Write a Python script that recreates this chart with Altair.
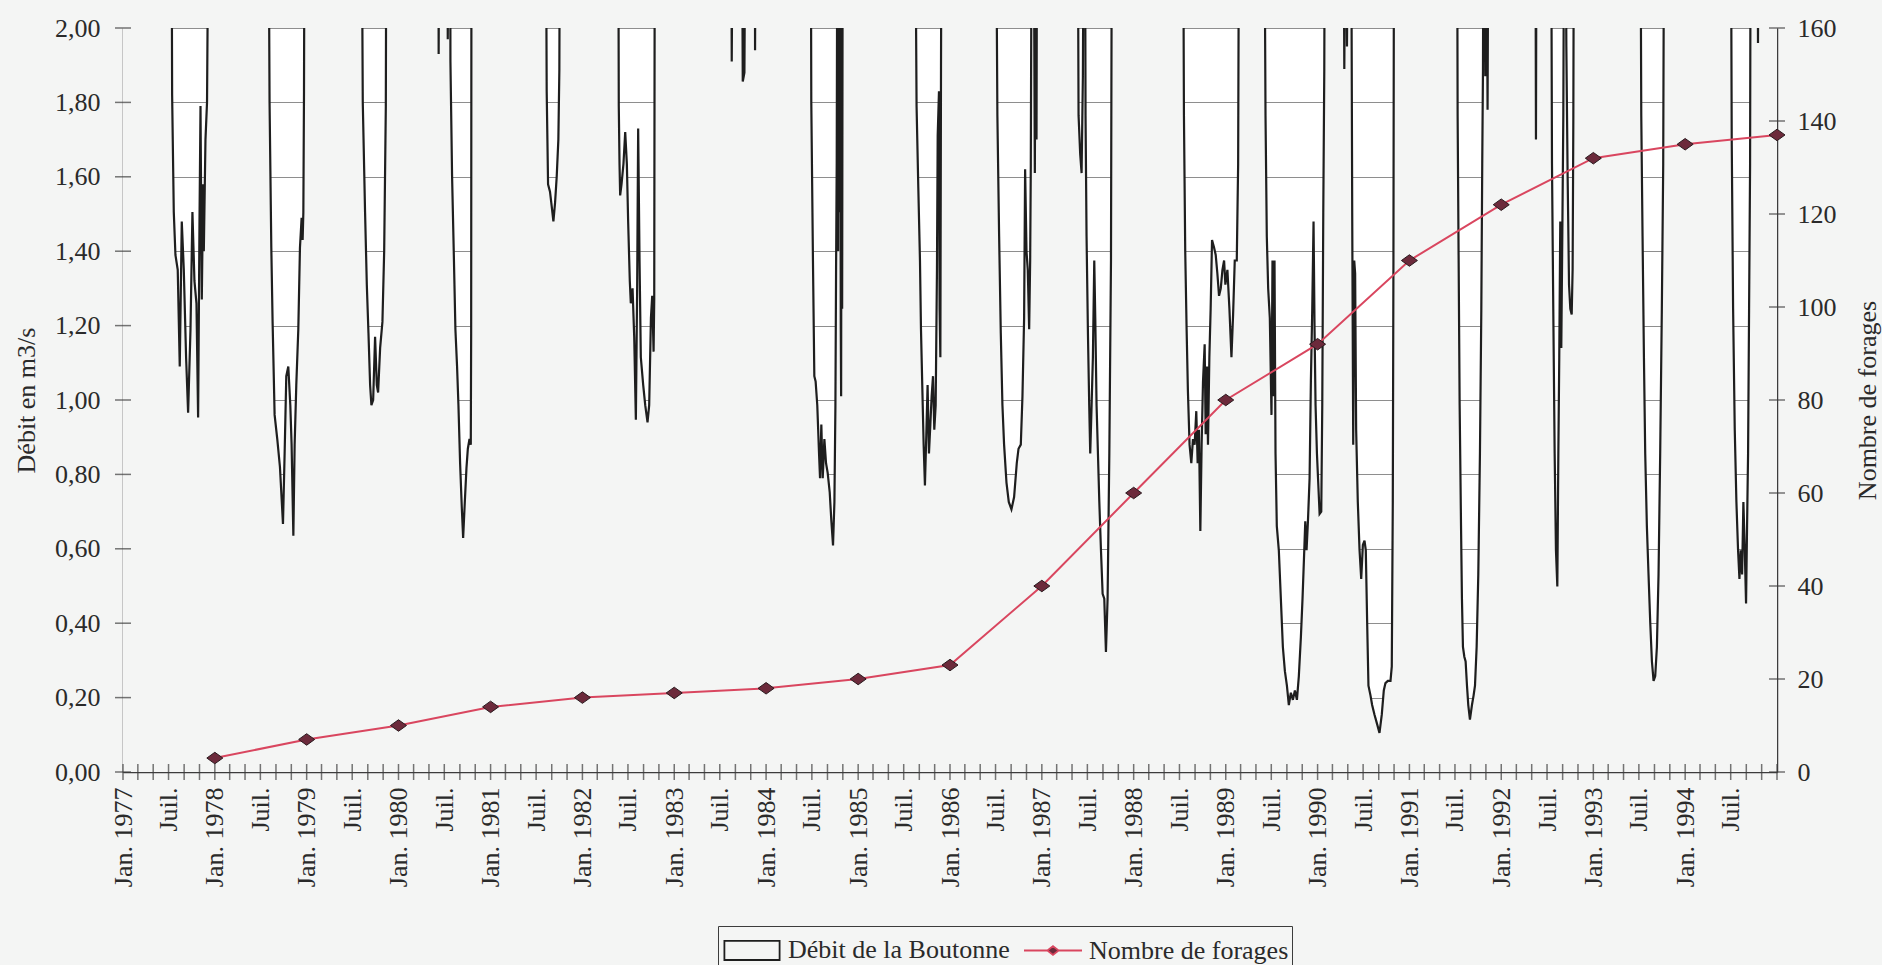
import math
from datetime import datetime, timezone
import altair as alt
import pandas as pd

# ---------------------------------------------------------------- style
FONT = "Liberation Serif"
BG = "#f4f5f4"
TXT = "#2a2a2a"
AXIS = "#3c3c3c"
GRID = "#8e8e8e"
CURVE = "#1e1e1e"
RED = "#d9465f"
MAROON = "#6c2a3b"
DIAMOND_EDGE = "#2a1a1e"
WIDTH, HEIGHT = 1654, 744

# ---------------------------------------------------------------- data
# Débit de la Boutonne (m3/s) as (decimal year, value).
# None = flow above the top of the scale (> 2,00 m3/s)
dip_1977 = [(1977.527, None), (1977.535, 1.82), (1977.553, 1.505), (1977.571, 1.39), (1977.596, 1.35),
            (1977.618, 1.09), (1977.640, 1.48), (1977.662, 1.35), (1977.687, 1.115), (1977.709, 0.966),
            (1977.735, 1.19), (1977.756, 1.505), (1977.778, 1.32), (1977.800, 1.26), (1977.818, 0.953),
            (1977.833, 1.48), (1977.844, 1.79), (1977.858, 1.27), (1977.873, 1.58), (1977.880, 1.40),
            (1977.898, 1.70), (1977.915, 1.80), (1977.935, None)]
dip_1978 = [(1978.582, None), (1978.596, 1.80), (1978.615, 1.41), (1978.629, 1.21), (1978.651, 0.96),
            (1978.680, 0.895), (1978.709, 0.82), (1978.742, 0.667), (1978.760, 0.856), (1978.778, 1.064),
            (1978.800, 1.09), (1978.822, 0.986), (1978.836, 0.88), (1978.855, 0.635), (1978.869, 0.88),
            (1978.887, 1.04), (1978.909, 1.19), (1978.927, 1.41), (1978.945, 1.49), (1978.956, 1.43),
            (1978.964, 1.505), (1978.971, 1.83), (1978.978, None)]
dip_1979 = [(1979.596, None), (1979.611, 1.80), (1979.636, 1.505), (1979.655, 1.31), (1979.673, 1.18),
            (1979.691, 1.04), (1979.705, 0.986), (1979.724, 1.00), (1979.745, 1.17), (1979.764, 1.04),
            (1979.778, 1.02), (1979.800, 1.14), (1979.825, 1.21), (1979.844, 1.40), (1979.862, 1.79),
            (1979.869, None)]
dip_1980 = [(1980.433, None), (1980.436, 1.93), (1980.444, None), (1980.527, None), (1980.535, 1.97),
            (1980.549, None), (1980.560, None), (1980.564, 1.91), (1980.582, 1.60), (1980.600, 1.40),
            (1980.618, 1.19), (1980.636, 1.09), (1980.651, 0.986), (1980.669, 0.83), (1980.687, 0.713),
            (1980.702, 0.629), (1980.720, 0.726), (1980.738, 0.817), (1980.753, 0.869), (1980.771, 0.895),
            (1980.785, 0.88), (1980.789, 1.18), (1980.793, None)]
dip_1981 = [(1981.600, None), (1981.611, 1.83), (1981.626, 1.58), (1981.647, 1.56), (1981.666, 1.52),
            (1981.684, 1.48), (1981.702, 1.53), (1981.720, 1.60), (1981.738, 1.70), (1981.749, 1.89),
            (1981.756, None)]
dip_1982 = [(1982.389, None), (1982.396, 1.79), (1982.404, 1.635), (1982.411, 1.55), (1982.426, 1.58),
            (1982.447, 1.635), (1982.466, 1.72), (1982.484, 1.635), (1982.498, 1.48), (1982.516, 1.32),
            (1982.527, 1.26), (1982.546, 1.30), (1982.564, 1.17), (1982.582, 0.947), (1982.596, 1.30),
            (1982.607, 1.73), (1982.622, 1.375), (1982.636, 1.115), (1982.662, 1.04), (1982.684, 0.986),
            (1982.709, 0.94), (1982.727, 0.986), (1982.746, 1.22), (1982.760, 1.28), (1982.775, 1.13),
            (1982.782, 1.27), (1982.789, None)]
dip_1983 = [(1983.618, None), (1983.626, 1.91), (1983.640, None), (1983.735, None), (1983.746, 1.856),
            (1983.764, 1.88), (1983.778, None), (1983.876, None), (1983.880, 1.94), (1983.887, None)]
dip_1984 = [(1984.484, None), (1984.491, 1.80), (1984.509, 1.375), (1984.524, 1.064), (1984.538, 1.05),
            (1984.556, 0.986), (1984.575, 0.856), (1984.586, 0.79), (1984.600, 0.934), (1984.615, 0.79),
            (1984.633, 0.895), (1984.651, 0.83), (1984.669, 0.804), (1984.691, 0.752), (1984.709, 0.674),
            (1984.727, 0.609), (1984.742, 0.726), (1984.753, 0.986), (1984.760, 1.35), (1984.767, 1.635),
            (1984.775, None), (1984.782, 1.40), (1984.789, None), (1984.796, 1.505), (1984.804, None),
            (1984.811, 1.20), (1984.815, 1.01), (1984.822, None), (1984.826, 1.245), (1984.833, None)]
dip_1985 = [(1985.618, None), (1985.636, 1.79), (1985.655, 1.57), (1985.673, 1.375), (1985.684, 1.19),
            (1985.698, 1.04), (1985.713, 0.88), (1985.727, 0.77), (1985.742, 0.906), (1985.756, 1.04),
            (1985.771, 0.856), (1985.786, 0.934), (1985.800, 1.01), (1985.815, 1.064), (1985.829, 0.92),
            (1985.844, 0.986), (1985.858, 1.35), (1985.866, 1.71), (1985.880, 1.83), (1985.887, 1.245),
            (1985.895, 1.115), (1985.902, 1.89), (1985.909, None)]
dip_1986 = [(1986.498, None), (1986.516, 1.765), (1986.535, 1.44), (1986.553, 1.18), (1986.571, 0.986),
            (1986.589, 0.88), (1986.615, 0.778), (1986.640, 0.726), (1986.669, 0.706), (1986.698, 0.739),
            (1986.727, 0.83), (1986.746, 0.869), (1986.771, 0.88), (1986.789, 1.01), (1986.807, 1.22),
            (1986.818, 1.62), (1986.833, 1.40), (1986.847, 1.35), (1986.862, 1.19), (1986.873, 1.375),
            (1986.880, 1.635), (1986.891, None), (1986.909, None), (1986.924, 1.61), (1986.935, None),
            (1986.942, 1.70), (1986.949, None)]
dip_1987 = [(1987.389, None), (1987.400, 1.765), (1987.418, 1.66), (1987.433, 1.61), (1987.447, 1.87),
            (1987.458, None), (1987.469, None), (1987.476, 1.765), (1987.487, 1.44), (1987.502, 1.18),
            (1987.516, 0.986), (1987.527, 0.856), (1987.542, 0.986), (1987.556, 1.115), (1987.571, 1.375),
            (1987.582, 1.22), (1987.596, 0.986), (1987.611, 0.856), (1987.626, 0.726), (1987.644, 0.596),
            (1987.662, 0.479), (1987.680, 0.466), (1987.698, 0.323), (1987.716, 0.466), (1987.735, 0.856),
            (1987.753, 1.375), (1987.764, None)]
dip_1988 = [(1988.535, None), (1988.546, 1.765), (1988.560, 1.40), (1988.575, 1.19), (1988.589, 1.025),
            (1988.607, 0.88), (1988.626, 0.83), (1988.644, 0.895), (1988.662, 0.88), (1988.680, 0.97),
            (1988.695, 0.83), (1988.709, 0.92), (1988.724, 0.648), (1988.738, 0.88), (1988.753, 1.05),
            (1988.771, 1.15), (1988.782, 0.908), (1988.796, 1.09), (1988.807, 0.88), (1988.822, 1.115),
            (1988.836, 1.245), (1988.851, 1.43), (1988.873, 1.41), (1988.891, 1.39), (1988.909, 1.34),
            (1988.927, 1.28), (1988.946, 1.30), (1988.964, 1.35), (1988.982, 1.375), (1988.996, 1.31),
            (1989.018, 1.35), (1989.040, 1.245), (1989.062, 1.115), (1989.080, 1.23), (1989.098, 1.375),
            (1989.120, 1.375), (1989.135, 1.635), (1989.146, None)]
dip_1989 = [(1989.418, None), (1989.433, 1.765), (1989.447, 1.44), (1989.462, 1.30), (1989.480, 1.22),
            (1989.498, 0.96), (1989.509, 1.375), (1989.520, 1.01), (1989.531, 1.375), (1989.542, 0.856),
            (1989.556, 0.661), (1989.578, 0.596), (1989.600, 0.466), (1989.622, 0.336), (1989.644, 0.271),
            (1989.666, 0.232), (1989.687, 0.18), (1989.709, 0.213), (1989.731, 0.194), (1989.753, 0.219),
            (1989.775, 0.194), (1989.796, 0.258), (1989.818, 0.362), (1989.836, 0.466), (1989.855, 0.596),
            (1989.866, 0.674), (1989.880, 0.596), (1989.895, 0.674), (1989.913, 0.79), (1989.927, 1.05),
            (1989.942, 1.245), (1989.956, 1.48), (1989.967, 1.19), (1989.978, 0.986), (1989.993, 0.856),
            (1990.007, 0.778), (1990.022, 0.694), (1990.040, 0.70), (1990.051, 0.986), (1990.062, 1.505),
            (1990.073, 1.89), (1990.080, None)]
dip_1990 = [(1990.280, None), (1990.291, 1.89), (1990.306, None), (1990.320, 1.95), (1990.335, None),
            (1990.364, None), (1990.377, 1.505), (1990.388, 0.88), (1990.399, 1.375), (1990.409, 1.34),
            (1990.420, 0.92), (1990.438, 0.726), (1990.457, 0.596), (1990.475, 0.519), (1990.493, 0.61),
            (1990.511, 0.622), (1990.525, 0.596), (1990.540, 0.40), (1990.554, 0.232), (1990.576, 0.206),
            (1990.594, 0.18), (1990.620, 0.154), (1990.649, 0.128), (1990.674, 0.105), (1990.699, 0.154),
            (1990.721, 0.219), (1990.739, 0.239), (1990.765, 0.245), (1990.794, 0.245), (1990.808, 0.284),
            (1990.819, 0.726), (1990.826, 1.375), (1990.833, None)]
dip_1991 = [(1991.518, None), (1991.525, 1.765), (1991.536, 1.375), (1991.547, 0.986), (1991.562, 0.661),
            (1991.572, 0.466), (1991.583, 0.336), (1991.598, 0.31), (1991.612, 0.297), (1991.627, 0.232),
            (1991.641, 0.18), (1991.659, 0.141), (1991.681, 0.18), (1991.699, 0.206), (1991.714, 0.232),
            (1991.732, 0.336), (1991.750, 0.531), (1991.768, 0.856), (1991.783, 1.245), (1991.793, 1.635),
            (1991.801, 1.89), (1991.808, None), (1991.815, None), (1991.826, 1.87), (1991.837, None),
            (1991.851, 1.78), (1991.862, None)]
dip_1992 = [(1992.370, None), (1992.377, 1.70), (1992.384, None), (1992.540, None), (1992.551, 1.635),
            (1992.565, 1.245), (1992.580, 0.856), (1992.594, 0.596), (1992.609, 0.499), (1992.620, 0.856),
            (1992.630, 1.115), (1992.641, 1.48), (1992.652, 1.14), (1992.663, 1.44), (1992.674, 1.765),
            (1992.685, None), (1992.696, None), (1992.707, 1.95), (1992.721, 1.60), (1992.736, 1.31),
            (1992.750, 1.245), (1992.765, 1.23), (1992.775, 1.35), (1992.783, 1.765), (1992.790, None)]
dip_1993 = [(1993.511, None), (1993.522, 1.765), (1993.536, 1.44), (1993.551, 1.115), (1993.565, 0.856),
            (1993.583, 0.661), (1993.601, 0.531), (1993.620, 0.40), (1993.638, 0.297), (1993.656, 0.245),
            (1993.674, 0.258), (1993.692, 0.336), (1993.710, 0.531), (1993.728, 0.856), (1993.746, 1.245),
            (1993.761, 1.635), (1993.772, None)]
dip_1994 = [(1994.496, None), (1994.507, 1.70), (1994.522, 1.245), (1994.540, 0.92), (1994.558, 0.726),
            (1994.576, 0.596), (1994.591, 0.519), (1994.605, 0.596), (1994.620, 0.531), (1994.634, 0.726),
            (1994.649, 0.596), (1994.663, 0.453), (1994.674, 0.661), (1994.685, 0.856), (1994.696, 1.245),
            (1994.707, 1.635), (1994.714, None), (1994.786, None), (1994.793, 1.96), (1994.801, None)]

DIPS = [dip_1977, dip_1978, dip_1979, dip_1980, dip_1981, dip_1982, dip_1983, dip_1984, dip_1985,
        dip_1986, dip_1987, dip_1988, dip_1989, dip_1990, dip_1991, dip_1992, dip_1993, dip_1994]

# Nombre de forages (1st January of each year; last point = end of 1994)
FORAGES_YEARS = [1978, 1979, 1980, 1981, 1982, 1983, 1984, 1985, 1986,
                 1987, 1988, 1989, 1990, 1991, 1992, 1993, 1994, 1995]
FORAGES_N = [3, 7, 10, 14, 16, 17, 18, 20, 23, 40, 60, 80, 92, 110, 122, 132, 135, 137]

Y_LEFT_TICKS = [0.0, 0.2, 0.4, 0.6, 0.8, 1.0, 1.2, 1.4, 1.6, 1.8, 2.0]
Y_RIGHT_TICKS = [0, 20, 40, 60, 80, 100, 120, 140, 160]
X_START, X_END = 1977, 1995

LEG_D = "Débit de la Boutonne"
LEG_N = "Nombre de forages"

# ---------------------------------------------------------------- helpers
UTC = timezone.utc


def iso(y):
    yr = int(math.floor(y))
    frac = y - yr
    a = datetime(yr, 1, 1, tzinfo=UTC)
    b = datetime(yr + 1, 1, 1, tzinfo=UTC)
    return (a + (b - a) * frac).strftime("%Y-%m-%dT%H:%M:%SZ")


def ms(yr, mo):
    return int(datetime(yr, mo, 1, tzinfo=UTC).timestamp() * 1000)


ABOVE = 2.5  # drawn beyond the clipped top of the scale

rows = [{"t": iso(X_START), "q": ABOVE}]
for dip in DIPS:
    for y, q in dip:
        rows.append({"t": iso(y), "q": ABOVE if q is None else q})
rows.append({"t": iso(X_END), "q": ABOVE})
flow_df = pd.DataFrame(rows)

forages_df = pd.DataFrame({
    "t": [iso(y) for y in FORAGES_YEARS],
    "n": FORAGES_N,
    "serie": [LEG_N] * len(FORAGES_N),
})

x_tick_ms = [ms(y, m) for y in range(X_START, X_END) for m in (1, 3, 5, 7, 9, 11)] + [ms(X_END, 1)]
x_ticks_df = pd.DataFrame({"t": x_tick_ms})
left_ticks_df = pd.DataFrame({"v": Y_LEFT_TICKS})
right_ticks_df = pd.DataFrame({"n": Y_RIGHT_TICKS})

# ---------------------------------------------------------------- scales & axes
X_SCALE = alt.Scale(type="utc", domain=[ms(X_START, 1), ms(X_END, 1)], nice=False)
Y_LEFT_SCALE = alt.Scale(domain=[0, 2], nice=False, zero=False)
Y_RIGHT_SCALE = alt.Scale(domain=[0, 160], nice=False, zero=False)

X_AXIS = alt.Axis(
    values=x_tick_ms,
    labelExpr="(utcmonth(datum.value) == 0 && utcyear(datum.value) < 1995) ? 'Jan. ' + utcyear(datum.value) : (utcmonth(datum.value) == 6 ? 'Juil.' : '')",
    labelAngle=270, labelAlign="right", labelBaseline="middle", labelPadding=15,
    labelFont=FONT, labelFontSize=26, labelColor=TXT,
    labelOverlap=False, labelFlush=False, labelBound=False,
    ticks=False, tickSize=0, grid=False,
    domainColor=AXIS, domainWidth=1.5, title=None,
)
LEFT_AXIS = alt.Axis(
    orient="left", values=Y_LEFT_TICKS,
    labelExpr="replace(format(datum.value, '.2f'), '.', ',')",
    grid=True, gridColor=GRID, gridWidth=1.2,
    ticks=False, tickSize=0, labelPadding=23,
    labelFont=FONT, labelFontSize=26, labelColor=TXT,
    domainColor=AXIS, domainWidth=1.5,
    title="Débit en m3/s", titleX=-97, titleY=HEIGHT / 2, titleAngle=270,
    titleAlign="center", titleBaseline="middle",
    titleFont=FONT, titleFontSize=26, titleFontWeight="normal", titleColor=TXT,
)
RIGHT_AXIS = alt.Axis(
    orient="right", values=Y_RIGHT_TICKS, format="d",
    grid=False, ticks=False, tickSize=0, labelPadding=20,
    labelFont=FONT, labelFontSize=26, labelColor=TXT,
    domainColor=AXIS, domainWidth=1.5,
    title="Nombre de forages", titleX=90, titleY=HEIGHT / 2, titleAngle=270,
    titleAlign="center", titleBaseline="middle",
    titleFont=FONT, titleFontSize=26, titleFontWeight="normal", titleColor=TXT,
)

X_ENC = alt.X("t:T", scale=X_SCALE, axis=X_AXIS)

# ---------------------------------------------------------------- flow layers
area = alt.Chart(flow_df).mark_area(color=BG, opacity=1, clip=True).encode(
    x=X_ENC, y=alt.Y("q:Q", scale=Y_LEFT_SCALE, axis=LEFT_AXIS)
)
outline = alt.Chart(flow_df).mark_line(color=CURVE, strokeWidth=2.2, clip=True).encode(
    x=X_ENC, y=alt.Y("q:Q", scale=Y_LEFT_SCALE, axis=LEFT_AXIS)
)
left_ticks = alt.Chart(left_ticks_df).mark_tick(orient="horizontal", size=16, thickness=1.5, color=AXIS).encode(
    x=alt.value(0), y=alt.Y("v:Q", scale=Y_LEFT_SCALE, axis=LEFT_AXIS)
)
bottom_ticks = alt.Chart(x_ticks_df).mark_tick(orient="vertical", size=16, thickness=1.5, color=AXIS).encode(
    x=X_ENC, y=alt.value(HEIGHT)
)
flow_group = alt.layer(area, outline, left_ticks, bottom_ticks)

# ---------------------------------------------------------------- forages layers
DIAMOND = "M-1,0L0,-0.72L1,0L0,0.72Z"
RECT_SYM = "M-1.38,-0.48L1.38,-0.48L1.38,0.48L-1.38,0.48Z"
LINE_SYM = "M-1.45,0L-0.28,0M0.28,0L1.45,0M0,-0.22L0.28,0L0,0.22L-0.28,0Z"

legend = alt.Legend(
    title=None, orient="none", legendX=595, legendY=898, direction="horizontal",
    labelFont=FONT, labelFontSize=26, labelColor=TXT, labelOffset=15, labelLimit=600,
    symbolSize=1600, symbolOffset=10, columnPadding=10, padding=3,
    strokeColor=AXIS, fillColor=BG, symbolStrokeWidth=1.8, symbolOpacity=1,
    symbolType={"expr": f"datum.value == '{LEG_N}' ? '{LINE_SYM}' : '{RECT_SYM}'"},
)

SERIE_DOMAIN = [LEG_D, LEG_N]

forage_line = alt.Chart(forages_df).mark_line(strokeWidth=2).encode(
    x=X_ENC, y=alt.Y("n:Q", scale=Y_RIGHT_SCALE, axis=RIGHT_AXIS),
    stroke=alt.Stroke("serie:N", scale=alt.Scale(domain=SERIE_DOMAIN, range=[CURVE, RED]), legend=legend),
)
forage_pts = alt.Chart(forages_df).mark_point(
    shape=DIAMOND, filled=True, size=256, stroke=DIAMOND_EDGE, strokeWidth=1, opacity=1
).encode(
    x=X_ENC, y=alt.Y("n:Q", scale=Y_RIGHT_SCALE, axis=RIGHT_AXIS),
    fill=alt.Fill("serie:N", scale=alt.Scale(domain=SERIE_DOMAIN, range=[BG, MAROON]), legend=legend),
)
right_ticks = alt.Chart(right_ticks_df).mark_tick(orient="horizontal", size=16, thickness=1.5, color=AXIS).encode(
    x=alt.value(WIDTH), y=alt.Y("n:Q", scale=Y_RIGHT_SCALE, axis=RIGHT_AXIS)
)
forage_group = alt.layer(forage_line, forage_pts, right_ticks)

chart = (
    alt.layer(flow_group, forage_group)
    .resolve_scale(y="independent")
    .properties(
        width=WIDTH, height=HEIGHT, background=BG,
        padding={"left": 123, "top": 28, "right": 105, "bottom": 193},
        autosize=alt.AutoSizeParams(type="none"),
    )
    .configure_view(fill="white", stroke=None)
)

chart.save("out.html", embed_options={"renderer": "svg", "actions": False})
